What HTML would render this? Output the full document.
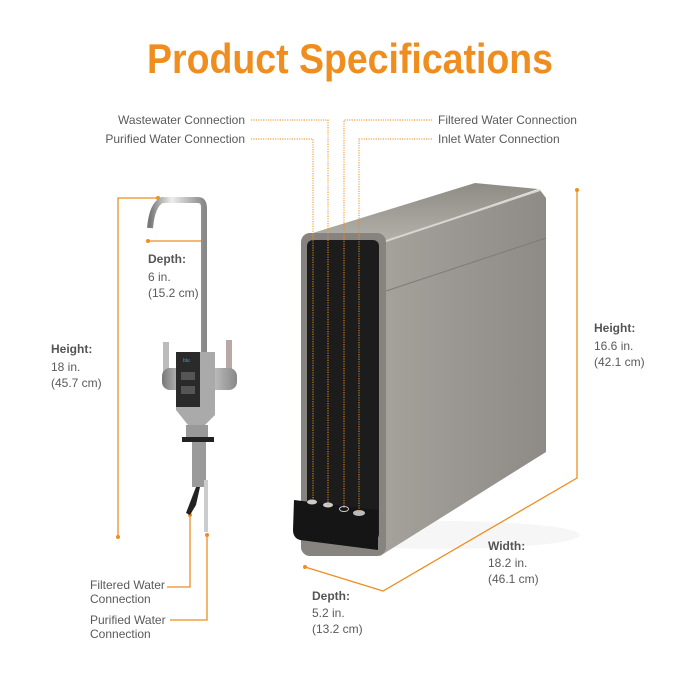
<!DOCTYPE html>
<html><head><meta charset="utf-8"><style>
html,body{margin:0;padding:0;background:#fff;}
svg{display:block;font-family:"Liberation Sans",sans-serif;}
.t{fill:#5a5a5a;font-size:12px;}
.b{fill:#555;font-size:12px;font-weight:bold;}
</style></head><body>
<svg width="700" height="700" viewBox="0 0 700 700">
<defs>
<linearGradient id="top" x1="0" y1="0" x2="0" y2="1"><stop offset="0" stop-color="#8f8b85"/><stop offset="1" stop-color="#b4b1ab"/></linearGradient>
<linearGradient id="side" x1="0" y1="0" x2="1" y2="0"><stop offset="0" stop-color="#a5a29c"/><stop offset="1" stop-color="#8e8b86"/></linearGradient>
<linearGradient id="chrome" x1="0" y1="0" x2="1" y2="0"><stop offset="0" stop-color="#777"/><stop offset=".4" stop-color="#eee"/><stop offset="1" stop-color="#888"/></linearGradient>
</defs>
<text x="350" y="73" text-anchor="middle" fill="#EF8E1F" font-size="42" font-weight="bold" textLength="406" lengthAdjust="spacingAndGlyphs">Product Specifications</text>

<text class="t" x="245" y="124" text-anchor="end">Wastewater Connection</text>
<text class="t" x="245" y="143" text-anchor="end">Purified Water Connection</text>
<text class="t" x="438" y="124">Filtered Water Connection</text>
<text class="t" x="438" y="143">Inlet Water Connection</text>

<ellipse cx="440" cy="535" rx="140" ry="14" fill="#f6f6f6"/>
<polygon points="380,243 540,190 546,198 546,452 380,556" fill="url(#side)"/>
<line x1="383" y1="292" x2="546" y2="238" stroke="#7f7c77" stroke-width="1"/>
<polygon points="303,236 475,183 538,189 380,243" fill="url(#top)"/>
<polyline points="380,243 540,190" stroke="#d8d6d2" stroke-width="2" fill="none"/>
<rect x="301" y="233" width="85" height="323" rx="9" fill="#87847f"/>
<rect x="307" y="240" width="72" height="300" rx="6" fill="#1c1c1c"/>
<path d="M294 500 L378 510 L378 550 L300 540 Q293 538 293 530 Z" fill="#151515"/>
<ellipse cx="312" cy="502" rx="5" ry="2.5" fill="#ccc"/>
<ellipse cx="328" cy="505" rx="5" ry="2.5" fill="#ccc"/>
<ellipse cx="344" cy="509" rx="4.5" ry="2.5" fill="none" stroke="#ccc"/>
<ellipse cx="359" cy="513" rx="6" ry="3" fill="#bbb"/>

<g stroke="#EF8E1F" stroke-width="1" stroke-dasharray="1.2,1.2" fill="none">
<polyline points="251,120 328,120 328,505"/>
<polyline points="251,139 313,139 313,500"/>
<polyline points="432,120 344,120 344,508"/>
<polyline points="432,139 359,139 359,512"/>
</g>

<g stroke="#EF8E1F" stroke-width="1.3" fill="none">
<polyline points="577,190 577,478 383,591 305,567"/>
<polyline points="118,537 118,198 158,198"/>
<line x1="148" y1="241" x2="204" y2="241"/>
<polyline points="167,587 190,587 190,515"/>
<polyline points="170,620 207,620 207,535"/>
</g>
<g fill="#EF8E1F">
<circle cx="577" cy="190" r="2"/><circle cx="305" cy="567" r="2"/>
<circle cx="118" cy="537" r="2"/><circle cx="158" cy="198" r="2"/>
<circle cx="148" cy="241" r="2"/><circle cx="204" cy="241" r="2"/>
<circle cx="190" cy="515" r="2"/><circle cx="207" cy="535" r="2"/>
</g>

<text class="b" x="594" y="332">Height:</text>
<text class="t" x="594" y="350">16.6 in.</text>
<text class="t" x="594" y="366">(42.1 cm)</text>
<text class="b" x="488" y="550">Width:</text>
<text class="t" x="488" y="567">18.2 in.</text>
<text class="t" x="488" y="583">(46.1 cm)</text>
<text class="b" x="312" y="600">Depth:</text>
<text class="t" x="312" y="617">5.2 in.</text>
<text class="t" x="312" y="633">(13.2 cm)</text>

<path d="M150 228 Q152 205 162 200 L198 200 Q204 200 204 208 L204 352" stroke="url(#chrome)" stroke-width="6" fill="none"/>
<rect x="163" y="342" width="6" height="30" fill="#bbb"/>
<rect x="226" y="340" width="6" height="32" fill="#b9a9a6"/>
<rect x="162" y="368" width="75" height="22" rx="8" fill="url(#chrome)"/>
<path d="M176 352 L215 352 L215 415 L205 425 L188 425 L176 410 Z" fill="#aaa"/>
<rect x="176" y="352" width="24" height="55" fill="#2a2a2a"/>
<text x="183" y="362" font-size="5" fill="#3aa0d8">blu</text>
<rect x="181" y="372" width="14" height="8" fill="#555"/>
<rect x="181" y="386" width="14" height="8" fill="#555"/>
<rect x="186" y="425" width="22" height="12" fill="#999"/>
<rect x="182" y="437" width="32" height="5" fill="#222"/>
<rect x="192" y="442" width="14" height="45" fill="#9a9a9a"/>
<rect x="204" y="480" width="4" height="52" fill="#ccc"/>
<path d="M196 487 L200 487 L196 505 L190 515 L186 513 Z" fill="#222"/>

<text class="b" x="148" y="263">Depth:</text>
<text class="t" x="148" y="281">6 in.</text>
<text class="t" x="148" y="297">(15.2 cm)</text>
<text class="b" x="51" y="353">Height:</text>
<text class="t" x="51" y="371">18 in.</text>
<text class="t" x="51" y="387">(45.7 cm)</text>
<text class="t" x="90" y="589">Filtered Water</text>
<text class="t" x="90" y="603">Connection</text>
<text class="t" x="90" y="624">Purified Water</text>
<text class="t" x="90" y="638">Connection</text>
</svg>
</body></html>
